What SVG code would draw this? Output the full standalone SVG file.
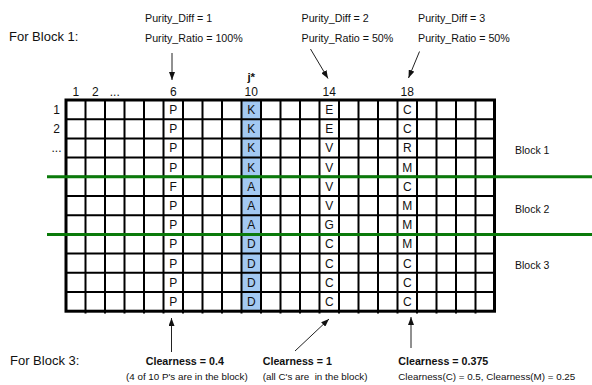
<svg xmlns="http://www.w3.org/2000/svg" width="592" height="385" viewBox="0 0 592 385">
  <defs>
    <marker id="head" viewBox="0 0 8 6" refX="8" refY="3" markerWidth="8" markerHeight="6" markerUnits="userSpaceOnUse" orient="auto">
      <path d="M0,0 L8,3 L0,6 z" fill="#111"/>
    </marker>
    <style>
      text { font-family: "Liberation Sans", Arial, Helvetica, sans-serif; fill: #111; }
      .note { font-size: 10.7px; }
      .sub { font-size: 9.8px; }
      .big { font-size: 13px; }
      .bold { font-weight: bold; font-size: 10.7px; }
      .hdr { font-size: 12px; text-anchor: middle; }
      .cell { font-size: 12px; text-anchor: middle; }
      .blk { font-size: 10.5px; }
      .inner { stroke: #000; stroke-width: 2; fill: none; }
      .border { stroke: #000; stroke-width: 3; fill: none; }
      .split { stroke: #0a7a0a; stroke-width: 3; }
      .arrow { stroke: #222; stroke-width: 1; fill: none; marker-end: url(#head); }
    </style>
  </defs>
  <rect width="592" height="385" fill="#fff"/>

  <!-- header notes -->
  <g id="title-block1"><text class="big" x="9" y="40.7">For Block 1:</text></g>
  <g id="purity-col6">
    <text class="note" x="145" y="21.5">Purity_Diff = 1</text>
    <text class="note" x="145" y="42">Purity_Ratio = 100%</text>
  </g>
  <g id="purity-col14">
    <text class="note" x="301.5" y="21.5">Purity_Diff = 2</text>
    <text class="note" x="301.5" y="42">Purity_Ratio = 50%</text>
  </g>
  <g id="purity-col18">
    <text class="note" x="418" y="21.5">Purity_Diff = 3</text>
    <text class="note" x="418" y="42">Purity_Ratio = 50%</text>
  </g>

  <!-- column and row indices -->
  <g id="col-index">
    <text x="251.25" y="80.5" style="font-size:11.5px;font-weight:bold;text-anchor:middle">j*</text>
    <text class="hdr" x="75.75" y="95.5">1</text>
    <text class="hdr" x="95.25" y="95.5">2</text>
    <text class="hdr" x="114.75" y="95.5">...</text>
    <text class="hdr" x="173.25" y="95.5">6</text>
    <text class="hdr" x="251.25" y="95.5">10</text>
    <text class="hdr" x="329.25" y="95.5">14</text>
    <text class="hdr" x="407.25" y="95.5">18</text>
  </g>
  <g id="row-index">
    <text class="hdr" x="56.5" y="114">1</text>
    <text class="hdr" x="56.5" y="133.2">2</text>
    <text class="hdr" x="56.5" y="152.4">...</text>
  </g>

  <!-- alignment grid -->
  <g id="grid">
    <rect x="241.5" y="100" width="19.5" height="211.2" fill="#a3c9f2"/>
    <path class="inner" d="M85.5,100V313.5 M105,100V313.5 M124.5,100V313.5 M144,100V313.5 M163.5,100V313.5 M183,100V313.5 M202.5,100V313.5 M222,100V313.5 M241.5,100V313.5 M261,100V313.5 M280.5,100V313.5 M300,100V313.5 M319.5,100V313.5 M339,100V313.5 M358.5,100V313.5 M378,100V313.5 M397.5,100V313.5 M417,100V313.5 M436.5,100V313.5 M456,100V313.5 M475.5,100V313.5"/>
    <path class="inner" d="M66,119.2H494.5 M66,138.4H494.5 M66,157.6H494.5 M66,176.8H494.5 M66,196H494.5 M66,215.2H494.5 M66,234.4H494.5 M66,253.6H494.5 M66,272.8H494.5 M66,292H494.5"/>
    <rect class="border" x="66" y="100" width="428.5" height="211.2"/>
  </g>

  <!-- residue columns -->
  <g id="col6">
    <text class="cell" x="173.25" y="114">P</text>
    <text class="cell" x="173.25" y="133.2">P</text>
    <text class="cell" x="173.25" y="152.4">P</text>
    <text class="cell" x="173.25" y="171.6">P</text>
    <text class="cell" x="173.25" y="190.8">F</text>
    <text class="cell" x="173.25" y="210">P</text>
    <text class="cell" x="173.25" y="229.2">P</text>
    <text class="cell" x="173.25" y="248.4">P</text>
    <text class="cell" x="173.25" y="267.6">P</text>
    <text class="cell" x="173.25" y="286.8">P</text>
    <text class="cell" x="173.25" y="306">P</text>
  </g>
  <g id="col10">
    <text class="cell" x="251.25" y="114">K</text>
    <text class="cell" x="251.25" y="133.2">K</text>
    <text class="cell" x="251.25" y="152.4">K</text>
    <text class="cell" x="251.25" y="171.6">K</text>
    <text class="cell" x="251.25" y="190.8">A</text>
    <text class="cell" x="251.25" y="210">A</text>
    <text class="cell" x="251.25" y="229.2">A</text>
    <text class="cell" x="251.25" y="248.4">D</text>
    <text class="cell" x="251.25" y="267.6">D</text>
    <text class="cell" x="251.25" y="286.8">D</text>
    <text class="cell" x="251.25" y="306">D</text>
  </g>
  <g id="col14">
    <text class="cell" x="329.25" y="114">E</text>
    <text class="cell" x="329.25" y="133.2">E</text>
    <text class="cell" x="329.25" y="152.4">V</text>
    <text class="cell" x="329.25" y="171.6">V</text>
    <text class="cell" x="329.25" y="190.8">V</text>
    <text class="cell" x="329.25" y="210">V</text>
    <text class="cell" x="329.25" y="229.2">G</text>
    <text class="cell" x="329.25" y="248.4">C</text>
    <text class="cell" x="329.25" y="267.6">C</text>
    <text class="cell" x="329.25" y="286.8">C</text>
    <text class="cell" x="329.25" y="306">C</text>
  </g>
  <g id="col18">
    <text class="cell" x="407.25" y="114">C</text>
    <text class="cell" x="407.25" y="133.2">C</text>
    <text class="cell" x="407.25" y="152.4">R</text>
    <text class="cell" x="407.25" y="171.6">M</text>
    <text class="cell" x="407.25" y="190.8">C</text>
    <text class="cell" x="407.25" y="210">M</text>
    <text class="cell" x="407.25" y="229.2">M</text>
    <text class="cell" x="407.25" y="248.4">M</text>
    <text class="cell" x="407.25" y="267.6">C</text>
    <text class="cell" x="407.25" y="286.8">C</text>
    <text class="cell" x="407.25" y="306">C</text>
  </g>

  <!-- block boundaries -->
  <g id="block-splits">
    <line class="split" x1="47" y1="176.8" x2="592" y2="176.8"/>
    <line class="split" x1="47" y1="234.4" x2="592" y2="234.4"/>
  </g>
  <g id="block-labels">
    <text class="blk" x="515" y="154">Block 1</text>
    <text class="blk" x="515" y="212.5">Block 2</text>
    <text class="blk" x="515" y="269">Block 3</text>
  </g>

  <!-- footer notes -->
  <g id="title-block3"><text class="big" x="10" y="365">For Block 3:</text></g>
  <g id="clear-col6">
    <text class="bold" x="145.7" y="365">Clearness = 0.4</text>
    <text class="sub" x="126" y="379.5">(4 of 10 P's are in the block)</text>
  </g>
  <g id="clear-col14">
    <text class="bold" x="262.7" y="365">Clearness = 1</text>
    <text class="sub" x="262.7" y="379.5" style="white-space:pre">(all C's are  in the block)</text>
  </g>
  <g id="clear-col18">
    <text class="bold" x="398.3" y="365">Clearness = 0.375</text>
    <text class="sub" x="398.3" y="379.5">Clearness(C) = 0.5, Clearness(M) = 0.25</text>
  </g>

  <!-- connectors -->
  <g id="connectors">
    <line class="arrow" x1="172" y1="53" x2="172" y2="80"/>
    <line class="arrow" x1="310.5" y1="49" x2="328" y2="78.5"/>
    <line class="arrow" x1="419.5" y1="51.5" x2="408.5" y2="78"/>
    <line class="arrow" x1="171.5" y1="352" x2="171.5" y2="318"/>
    <line class="arrow" x1="295" y1="351" x2="329" y2="319"/>
    <line class="arrow" x1="411" y1="348" x2="411" y2="317"/>
  </g>
</svg>
